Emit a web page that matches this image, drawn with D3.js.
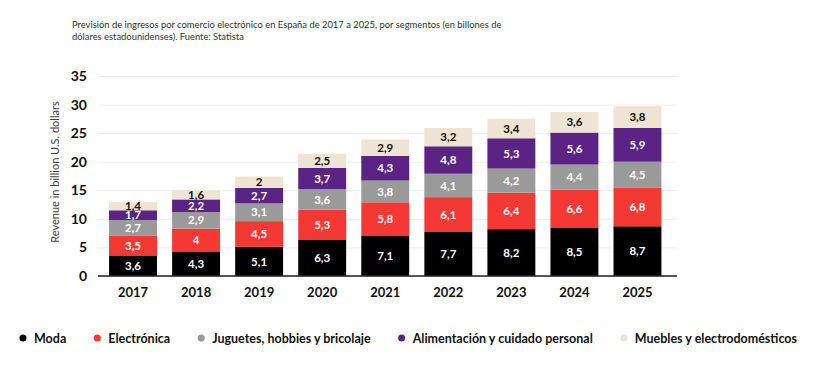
<!DOCTYPE html>
<html lang="es">
<head>
  <meta charset="UTF-8">
  <title>Comercio electrónico en España</title>
  <script src="https://cdn.jsdelivr.net/npm/d3@7"></script>
<style>
body{
  margin: 0;
  background: #fff;
}
text{
  font-family: Lato, "Open Sans", sans-serif;
}
.titulo{
  fill: #333;
}
.grid line{
  stroke: #ececec;
}
.ejeY text{
  font-weight: 700;
  font-size: 14px;
  fill: #111;
}
.etiqueta{
  font-weight: 700;
  font-size: 11.5px;
}
</style>
</head>
<body>
  <div id="grafico"></div>

  <script>
    var w = 827;
    var h = 376;

    // datos
    var anios = ['2017', '2018', '2019', '2020', '2021', '2022', '2023', '2024', '2025'];
    var segmentos = ['Moda', 'Electrónica', 'Juguetes, hobbies y bricolaje', 'Alimentación y cuidado personal', 'Muebles y electrodomésticos'];
    var moda = [3.6, 4.3, 5.1, 6.3, 7.1, 7.7, 8.2, 8.5, 8.7];
    var electronica = [3.5, 4, 4.5, 5.3, 5.8, 6.1, 6.4, 6.6, 6.8];
    var juguetes = [2.7, 2.9, 3.1, 3.6, 3.8, 4.1, 4.2, 4.4, 4.5];
    var alimentacion = [1.7, 2.2, 2.7, 3.7, 4.3, 4.8, 5.3, 5.6, 5.9];
    var muebles = [1.4, 1.6, 2, 2.5, 2.9, 3.2, 3.4, 3.6, 3.8];
    var ticksY = [0, 5, 10, 15, 20, 25, 30, 35];

    var colores = ['#000000', '#f43834', '#9a9a9a', '#5b2383', '#efe3d2'];
    var colorTexto = ['#fff', '#fff', '#fff', '#fff', '#111'];

    var series = [moda, electronica, juguetes, alimentacion, muebles];
    var filas = anios.map(function(a, i){
      var f = {anio: a};
      segmentos.forEach(function(s, j){ f[s] = series[j][i]; });
      return f;
    });
    var pila = d3.stack().keys(segmentos)(filas);

    var svg = d3.select("#grafico")
      .append("svg")
      .attr("width", w)
      .attr("height", h);

    // titulo
    var lineasTitulo = ['Previsión de ingresos por comercio electrónico en España de 2017 a 2025, por segmentos (en billones de',
                        'dólares estadounidenses). Fuente: Statista'];
    var t1 = svg.append("text").attr("class", "titulo").attr("x", 72).attr("y", 28)
      .style("font-size", "10px").text(lineasTitulo[0]);
    var tam = 10 * 430 / t1.node().getComputedTextLength();
    t1.style("font-size", tam + "px");
    svg.append("text").attr("class", "titulo").attr("x", 72).attr("y", 40)
      .style("font-size", tam + "px").text(lineasTitulo[1]);

    //Escalas
    var xScale = d3.scaleBand()
      .domain(anios)
      .range([101.5, 669])
      .paddingInner(0.24)
      .paddingOuter(0.12);

    var yScale = d3.scaleLinear()
      .domain([0, 35])
      .range([276, 76]);

    // rejilla y eje Y
    svg.append("g")
      .attr("class", "grid")
      .attr("transform", "translate(98,0)")
      .call(d3.axisLeft(yScale).tickValues(ticksY).tickSize(-579).tickFormat(""))
      .call(function(g){ g.select(".domain").remove(); });

    svg.append("g")
      .attr("class", "ejeY")
      .attr("transform", "translate(98,0)")
      .call(d3.axisLeft(yScale).tickValues(ticksY).tickSize(0).tickPadding(11))
      .call(function(g){ g.select(".domain").remove(); })
      .selectAll("text").attr("font-family", null);

    svg.append("text")
      .attr("transform", "translate(59,172) rotate(-90)")
      .attr("text-anchor", "middle")
      .style("font-size", "11px")
      .style("fill", "#444")
      .text("Revenue in billion U.S. dollars");

    // barras
    var grupos = svg.selectAll("g.capa")
      .data(pila)
      .enter().append("g")
      .attr("class", "capa")
      .attr("fill", function(d, i){ return colores[i]; });

    grupos.selectAll("rect")
      .data(function(d){ return d; })
      .enter().append("rect")
      .attr("x", function(d){ return xScale(d.data.anio); })
      .attr("y", function(d){ return yScale(d[1]); })
      .attr("width", xScale.bandwidth())
      .attr("height", function(d){ return yScale(d[0]) - yScale(d[1]); });

    pila.forEach(function(capa, i){
      svg.append("g").selectAll("text")
        .data(capa)
        .enter().append("text")
        .attr("class", "etiqueta")
        .attr("x", function(d){ return xScale(d.data.anio) + xScale.bandwidth() / 2; })
        .attr("y", function(d){ return (yScale(d[0]) + yScale(d[1])) / 2; })
        .attr("dy", "0.36em")
        .attr("text-anchor", "middle")
        .style("fill", colorTexto[i])
        .text(function(d){ return String(d.data[capa.key]).replace(".", ","); });
    });

    // eje X
    var ejeX = svg.append("g")
      .attr("transform", "translate(0,276)")
      .call(d3.axisBottom(xScale).tickSize(0).tickPadding(12));
    ejeX.select(".domain").attr("d", "M98,0H677").attr("stroke", "#222").attr("stroke-width", 1.5);
    ejeX.selectAll("text")
      .attr("font-family", null)
      .style("font-size", "13px")
      .style("font-weight", 700)
      .style("fill", "#111");

    // leyenda
    var leyenda = svg.append("g").attr("transform", "translate(0,338)");
    var items = leyenda.selectAll("g")
      .data(segmentos)
      .enter().append("g");
    items.append("circle").attr("r", 3.5).attr("fill", function(d, i){ return colores[i]; });
    var textos = items.append("text")
      .attr("x", 11)
      .attr("dy", "0.36em")
      .style("font-size", "12.5px")
      .style("font-weight", 700)
      .style("fill", "#111")
      .text(function(d){ return d; });
    var anchos = [];
    textos.each(function(){ anchos.push(this.getComputedTextLength()); });
    var totalTexto = d3.sum(anchos);
    var hueco = (797 - 23 - totalTexto - 11 * anchos.length) / (anchos.length - 1);
    var pos = 23;
    items.attr("transform", function(d, i){
      var x = pos;
      pos += 11 + anchos[i] + hueco;
      return "translate(" + x + ",0)";
    });
  </script>
</body>
</html>
